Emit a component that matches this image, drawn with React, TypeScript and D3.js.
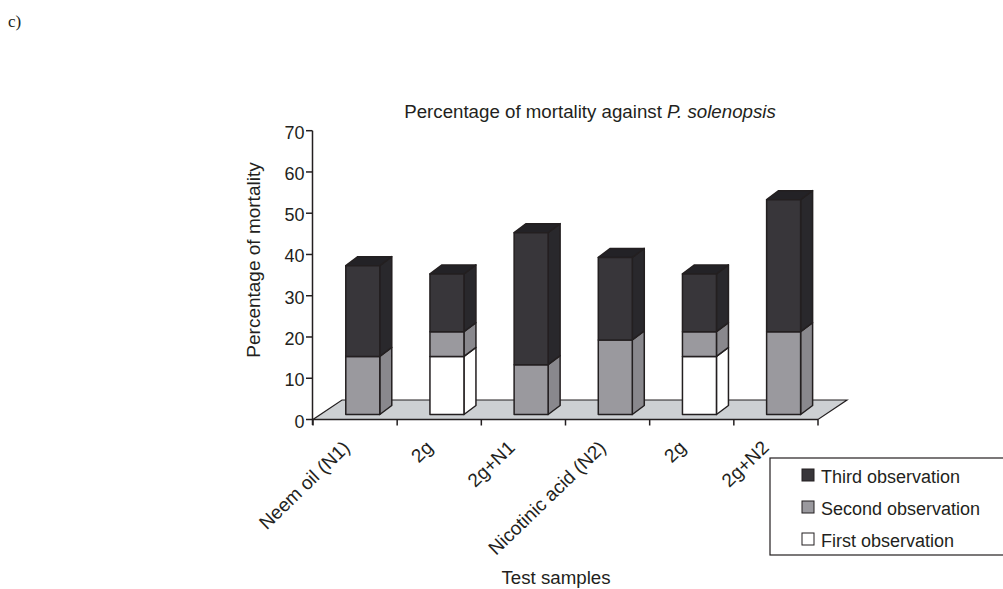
import React from "react";
import * as d3 from "d3";

const categories = ["Neem oil (N1)", "2g", "2g+N1", "Nicotinic acid (N2)", "2g", "2g+N2"];
const firstObs = [0, 15, 0, 0, 15, 0];
const secondObs = [15, 6, 13, 19, 6, 21];
const thirdObs = [22, 14, 32, 20, 14, 32];
const yTicks = [0, 10, 20, 30, 40, 50, 60, 70];
const seriesKeys = ["first", "second", "third"];
const seriesColors: Record<string, { front: string; side: string; top: string }> = {
  first: { front: "#ffffff", side: "#ffffff", top: "#ffffff" },
  second: { front: "#9a999e", side: "#89888d", top: "#89888d" },
  third: { front: "#38363a", side: "#29282c", top: "#232226" },
};
const legendItems = [
  { label: "Third observation", key: "third" },
  { label: "Second observation", key: "second" },
  { label: "First observation", key: "first" },
];

const FONT = "'Liberation Sans', Arial, sans-serif";
const INK = "#231f20";

export default function App() {
  const y = d3.scaleLinear().domain([0, 70]).range([419.5, 130.7]);
  const x = d3.scaleBand<number>().domain(d3.range(categories.length)).range([313, 818]);
  const barW = 34;
  const dx = 12;
  const dy = 9;
  const lift = -1.2;
  const baseY = 414.5;
  const floorDx = 29;
  const floorDy = 19.5;

  const rows = categories.map((_, i) => ({
    i,
    first: firstObs[i],
    second: secondObs[i],
    third: thirdObs[i],
  }));
  const stacked = d3.stack<any>().keys(seriesKeys)(rows);

  const floor = d3.line()([
    [313, 419.5],
    [818, 419.5],
    [818 + floorDx, 419.5 - floorDy],
    [313 + floorDx, 419.5 - floorDy],
  ]) + "Z";

  const labelEnds = [351, 434, 516, 607, 687, 770];

  return (
    <svg width={1003} height={589} style={{ position: "absolute", left: 0, top: 0, background: "#fff" }} fontFamily={FONT}>
      <text x={8} y={27} fontFamily="'Liberation Serif', serif" fontSize={17} fill={INK}>c)</text>
      <text x={590} y={118} textAnchor="middle" fontSize={18.7} fill={INK}>
        Percentage of mortality against <tspan fontStyle="italic">P. solenopsis</tspan>
      </text>

      <path d={floor} fill="#cdd0d3" stroke={INK} strokeWidth={1.2} />

      {stacked.map((layer) =>
        layer.map((d, i) => {
          if (d[1] === d[0]) return null;
          const c = seriesColors[layer.key];
          const x0 = x(i)! + x.bandwidth() / 2 + 7.7 - barW / 2;
          const x1 = x0 + barW;
          const yT = y(d[1]) + lift;
          const yB = d[0] === 0 ? baseY : y(d[0]) + lift;
          const isTop = layer.key === "third";
          return (
            <g key={layer.key + i} stroke={INK} strokeWidth={1.5} strokeLinejoin="round">
              <path d={`M${x1},${yT}L${x1 + dx},${yT - dy}L${x1 + dx},${yB - dy}L${x1},${yB}Z`} fill={c.side} />
              {isTop && (
                <path d={`M${x0},${yT}L${x0 + dx},${yT - dy}L${x1 + dx},${yT - dy}L${x1},${yT}Z`} fill={c.top} />
              )}
              <rect x={x0} y={yT} width={barW} height={yB - yT} fill={c.front} />
            </g>
          );
        })
      )}

      <g stroke={INK} strokeWidth={1.5} fill="none">
        <line x1={312.5} x2={312.5} y1={130.7} y2={425} />
        <line x1={312.5} x2={818} y1={419.5} y2={419.5} />
        {yTicks.map((t) => <line key={t} x1={306} x2={312.5} y1={y(t)} y2={y(t)} />)}
        {d3.range(categories.length + 1).map((i) => {
          const tx = 313 + i * x.step();
          return <line key={i} x1={tx} x2={tx} y1={419.5} y2={425.5} />;
        })}
      </g>

      {yTicks.map((t) => (
        <text key={t} x={304.5} y={y(t) + 8} textAnchor="end" fontSize={18} fill={INK}>{t}</text>
      ))}
      <text transform="translate(260,260) rotate(-90)" textAnchor="middle" fontSize={19} fill={INK}>Percentage of mortality</text>

      {categories.map((c, i) => (
        <text key={i} transform={`translate(${labelEnds[i]},449) rotate(-44)`} textAnchor="end" fontSize={19} fill={INK}>{c}</text>
      ))}
      <text x={556} y={584} textAnchor="middle" fontSize={18.7} fill={INK}>Test samples</text>

      <rect x={770} y={458} width={240} height={97} fill="#fff" stroke={INK} strokeWidth={1.2} />
      {legendItems.map((l, i) => {
        const ly = 475 + i * 32;
        return (
          <g key={l.key}>
            <rect x={802} y={ly - 6} width={12} height={12} fill={seriesColors[l.key].front} stroke={INK} strokeWidth={1} />
            <text x={821} y={ly + 8} fontSize={18} fill={INK}>{l.label}</text>
          </g>
        );
      })}
    </svg>
  );
}
